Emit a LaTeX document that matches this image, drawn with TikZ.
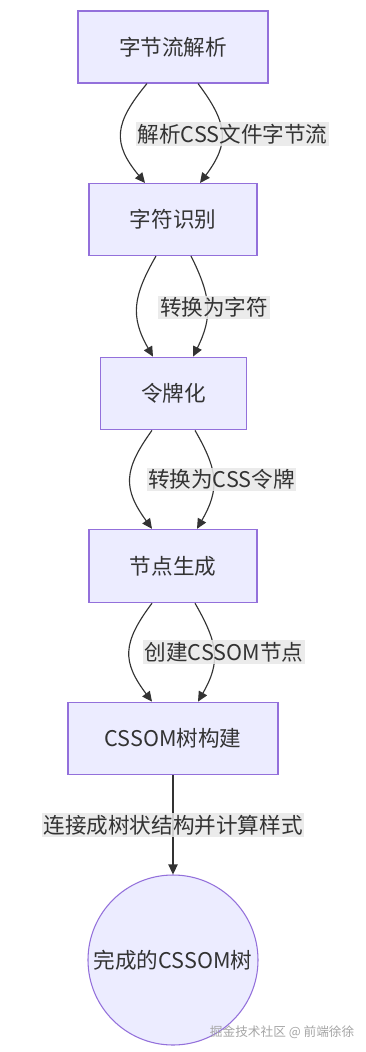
\documentclass[tikz,border=0pt]{standalone}
\usepackage{fontspec}
\setmainfont{Noto Sans CJK SC}
\usetikzlibrary{arrows.meta,shapes.geometric}
\definecolor{boxfill}{HTML}{ECECFF}
\definecolor{boxline}{HTML}{9370DB}
\definecolor{edgecol}{HTML}{333333}
\definecolor{lblbg}{HTML}{E8E8E8}
\tikzset{
  stepbox/.style={draw=boxline, fill=boxfill, line width=0.8pt, inner sep=0pt,
    font=\fontsize{16.2pt}{19pt}\selectfont, text=edgecol},
  endcircle/.style={circle, draw=boxline, fill=boxfill, line width=0.8pt, inner sep=0pt,
    minimum size=127.5pt, font=\fontsize{16.2pt}{19pt}\selectfont, text=edgecol},
  lbl/.style={fill=lblbg, fill opacity=0.85, text opacity=1, inner sep=1.2pt,
    font=\fontsize{16.2pt}{19pt}\selectfont, text=edgecol},
  flow/.style={draw=edgecol, line width=0.85pt, -{Triangle[length=7.5pt,width=7pt]}},
  mark wm/.style={font=\fontsize{9.5pt}{11pt}\selectfont, text=gray!70}
}
\begin{document}
\begin{tikzpicture}[x=0.75pt,y=-0.75pt]
\path[use as bounding box, fill=white] (0,0) rectangle (365,1052);

\node[stepbox, minimum width=142.5pt, minimum height=54pt] (b1) at (173,47) {字节流解析};
\node[stepbox, minimum width=126pt, minimum height=54pt] (b2) at (173,219.5) {字符识别};
\node[stepbox, minimum width=109pt, minimum height=54.5pt] (b3) at (173.5,393.5) {令牌化};
\node[stepbox, minimum width=126pt, minimum height=55pt] (b4) at (173,566) {节点生成};
\node[stepbox, minimum width=157.5pt, minimum height=54.5pt] (b5) at (173,738.5) {CSSOM树构建};
\node[endcircle] (c6) at (173,960) {完成的CSSOM树};

% edges b1 -> b2
\draw[flow] ([xshift=-19.5pt]b1.south) .. controls +(-33,40) and +(-33,-40) .. ([xshift=-21pt]b2.north);
\draw[flow] ([xshift=18.75pt]b1.south) .. controls +(30,40) and +(30,-40) .. ([xshift=20.25pt]b2.north);
% edges b2 -> b3
\draw[flow] ([xshift=-12.75pt]b2.south) .. controls +(-23,40) and +(-23,-40) .. ([xshift=-15.375pt]b3.north);
\draw[flow] ([xshift=13.5pt]b2.south) .. controls +(20,40) and +(20,-40) .. ([xshift=14.625pt]b3.north);
% edges b3 -> b4
\draw[flow] ([xshift=-16.125pt]b3.south) .. controls +(-29,40) and +(-29,-40) .. ([xshift=-15.75pt]b4.north);
\draw[flow] ([xshift=16.125pt]b3.south) .. controls +(23,40) and +(23,-40) .. ([xshift=18pt]b4.north);
% edges b4 -> b5
\draw[flow] ([xshift=-15.75pt]b4.south) .. controls +(-30,40) and +(-30,-40) .. ([xshift=-15.75pt]b5.north);
\draw[flow] ([xshift=16.5pt]b4.south) .. controls +(23,40) and +(23,-40) .. ([xshift=18.75pt]b5.north);
% edge b5 -> c6
\draw[flow] (b5.south) -- (c6.north);

\node[lbl] (l1) at (232.5,134) {解析CSS文件字节流};
\node[lbl] (l2) at (214,307.5) {转换为字符};
\node[lbl] (l3) at (221.5,479.5) {转换为CSS令牌};
\node[lbl] (l4) at (224,652) {创建CSSOM节点};
\node[lbl] (l5) at (173,825) {连接成树状结构并计算样式};

\node[mark wm, anchor=east] (wm) at (359,1032) {掘金技术社区 @ 前端徐徐};
\end{tikzpicture}
\end{document}
